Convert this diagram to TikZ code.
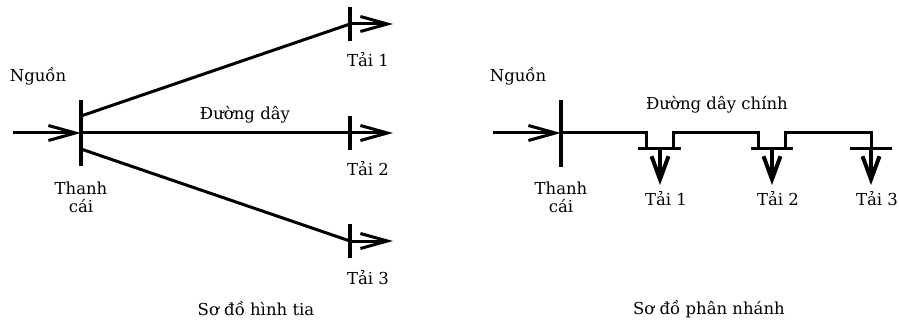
\documentclass[tikz,border=0pt]{standalone}
\usepackage{fontspec}
\setmainfont{DejaVu Serif}
\usetikzlibrary{arrows.meta, positioning}

\begin{document}
\begin{tikzpicture}[
    x=1pt, y=-1pt,
    bus/.style={line width=3.2pt},
    wire/.style={line width=3pt},
    feed/.style={line width=3pt, -{Straight Barb[length=27pt, width=15pt, line width=3pt]}},
    drop/.style={line width=3.2pt, -{Straight Barb[length=23pt, width=17pt, line width=4pt]}},
    txt/.style={font=\fontsize{16.5}{18}\selectfont, inner sep=0pt, align=center, text=black}
]
    \useasboundingbox (0,0) rectangle (899,323);
    % hinh tia
    \coordinate (busTop) at (81,100);
    \coordinate (busBot) at (81,166);
    \coordinate (busUp) at (81,116);
    \coordinate (busMid) at (81,133);
    \coordinate (busLow) at (81,149);
    \coordinate (srcA) at (13,133);
    \coordinate (tapA) at (350,24);
    \coordinate (tapB) at (350,133);
    \coordinate (tapC) at (350,241);
    \coordinate (endA) at (393,24);
    \coordinate (endB) at (393,133);
    \coordinate (endC) at (393,241);

    \draw[bus] (busTop) -- (busBot);
    \draw[feed] (srcA) -- (busMid);
    \draw[wire] (busUp) -- (tapA);
    \draw[wire] (busMid) -- (tapB);
    \draw[wire] (busLow) -- (tapC);
    \foreach \t/\e in {tapA/endA, tapB/endB, tapC/endC} {
        \draw[bus] ([yshift=-17pt]\t) -- ([yshift=17pt]\t);
        \draw[feed] (\t) -- (\e);
    }

    \node[txt] (srcLabelA) at (38,76) {Nguồn};
    \node[txt] (busLabelA) at (81,197) {Thanh\\cái};
    \node[txt] (lineLabelA) at (245,115) {Đường dây};
    \node[txt] (loadA1) at (368,60) {Tải 1};
    \node[txt] (loadA2) at (368,169) {Tải 2};
    \node[txt] (loadA3) at (368,278) {Tải 3};
    \node[txt] (titleA) at (256,309) {Sơ đồ hình tia};

    % phan nhanh
    \coordinate (busTopB) at (561,100);
    \coordinate (busBotB) at (561,167);
    \coordinate (busMidB) at (561,133);
    \coordinate (srcB) at (493,133);
    \coordinate (legA) at (646,149);
    \coordinate (barA) at (660,149);
    \coordinate (riseA) at (673,149);
    \coordinate (legB) at (758,149);
    \coordinate (barB) at (772,149);
    \coordinate (riseB) at (785,149);
    \coordinate (barC) at (871,149);
    \coordinate (outA) at (660,185);
    \coordinate (outB) at (772,185);
    \coordinate (outC) at (871,185);

    \draw[bus] (busTopB) -- (busBotB);
    \draw[feed] (srcB) -- (busMidB);
    \draw[wire] (busMidB) -| (legA);
    \draw[wire] (riseA) -- ++(0,-16) -| (legB);
    \draw[wire] (riseB) -- ++(0,-16) -| (barC);
    \draw[wire] ([xshift=-22pt]barA) -- ([xshift=21pt]barA);
    \draw[wire] ([xshift=-21pt]barB) -- ([xshift=21pt]barB);
    \draw[wire] ([xshift=-21pt]barC) -- ([xshift=21pt]barC);
    \foreach \b/\o in {barA/outA, barB/outB, barC/outC} {
        \draw[drop] (\b) -- (\o);
    }

    \node[txt] (srcLabelB) at (518,76) {Nguồn};
    \node[txt] (busLabelB) at (561,197) {Thanh\\cái};
    \node[txt] (lineLabelB) at (717,105) {Đường dây chính};
    \node[txt] (loadB1) at (666,199) {Tải 1};
    \node[txt] (loadB2) at (778,199) {Tải 2};
    \node[txt] (loadB3) at (877,199) {Tải 3};
    \node[txt] (titleB) at (709,309) {Sơ đồ phân nhánh};
\end{tikzpicture}
\end{document}
